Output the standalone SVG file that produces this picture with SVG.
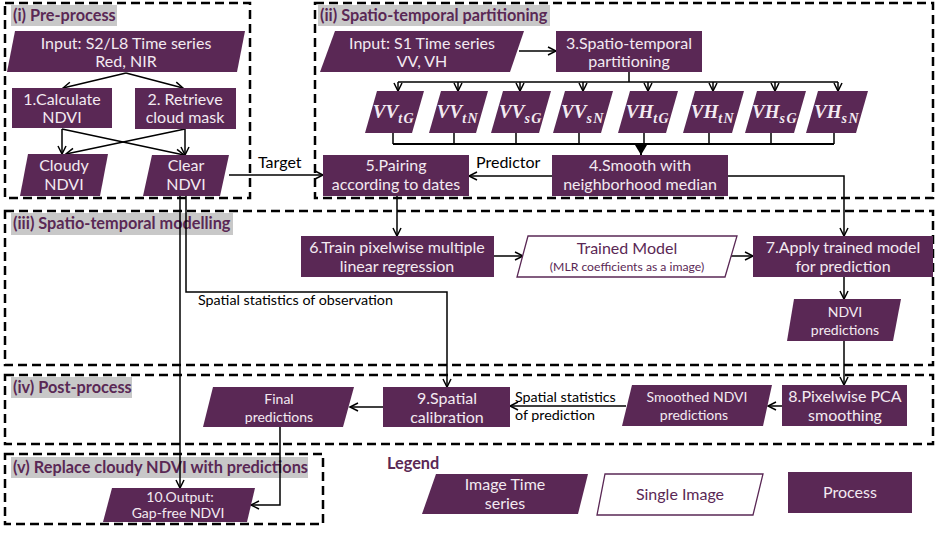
<svg xmlns="http://www.w3.org/2000/svg" width="938" height="533" viewBox="0 0 938 533">
<style>
.p{fill:#5a2855;}
.w{fill:#ffffff;stroke:#5a2855;stroke-width:1.3;}
.t{font-family:Lato,"Liberation Sans",sans-serif;font-size:16px;fill:#f3eaf1;text-anchor:middle;}
.ts{font-family:Lato,"Liberation Sans",sans-serif;font-size:14px;fill:#f3eaf1;text-anchor:middle;}
.tp{font-family:Lato,"Liberation Sans",sans-serif;font-size:16px;fill:#5a2855;text-anchor:middle;}
.hd{font-family:Lato,"Liberation Sans",sans-serif;font-size:16.3px;font-weight:bold;fill:#5a2855;}
.hb{fill:#c8c8c8;}
.reg{fill:none;stroke:#000;stroke-width:2.5;stroke-dasharray:9 5;}
.c{fill:none;stroke:#000;stroke-width:1.5;}
.ca{fill:none;stroke:#000;stroke-width:1.5;marker-end:url(#a);}
.lb{font-family:Lato,"Liberation Sans",sans-serif;font-size:14.3px;fill:#000;}
.lbl{font-family:Lato,"Liberation Sans",sans-serif;font-size:16px;fill:#000;}
.m{font-family:"Liberation Serif",serif;font-size:19px;font-weight:bold;font-style:italic;fill:#f3eaf1;text-anchor:middle;}
.sub{font-size:14px;letter-spacing:1.5px;}
</style>
<defs>
<marker id="a" markerUnits="userSpaceOnUse" markerWidth="12" markerHeight="12" refX="9" refY="5" orient="auto">
<path d="M1,1 L9,5 L1,9" fill="none" stroke="#000" stroke-width="1.5"/>
</marker>
<marker id="f" markerUnits="userSpaceOnUse" markerWidth="14" markerHeight="14" refX="10" refY="6" orient="auto">
<path d="M0,0 L10,6 L0,12 Z" fill="#000"/>
</marker>
</defs>

<g id="regions">
<rect class="reg" x="5" y="3" width="245" height="195"/>
<rect class="reg" x="315" y="3" width="618" height="195"/>
<rect class="reg" x="5" y="211" width="928" height="154"/>
<rect class="reg" x="5" y="375" width="928" height="69"/>
<rect class="reg" x="5" y="454" width="318" height="70"/>
</g>

<g id="titles">
<rect class="hb" x="11" y="5" width="106" height="21"/>
<text class="hd" x="13" y="21">(i) Pre-process</text>
<rect class="hb" x="318" y="5" width="232" height="21"/>
<text class="hd" x="320" y="21">(ii) Spatio-temporal partitioning</text>
<rect class="hb" x="11" y="213" width="222" height="22"/>
<text class="hd" x="13" y="229">(iii) Spatio-temporal modelling</text>
<rect class="hb" x="11" y="377" width="121" height="21"/>
<text class="hd" x="13" y="393">(iv) Post-process</text>
<rect class="hb" x="11" y="457" width="297" height="21"/>
<text class="hd" x="13" y="473">(v) Replace cloudy NDVI with predictions</text>
<text class="hd" x="387" y="469">Legend</text>
</g>

<g id="connectors">
<line class="ca" x1="126" y1="73" x2="63" y2="88"/>
<line class="ca" x1="126" y1="73" x2="183" y2="88"/>
<line class="ca" x1="62" y1="129" x2="62" y2="154"/>
<line class="ca" x1="62" y1="129" x2="184" y2="155"/>
<line class="ca" x1="185" y1="129" x2="185" y2="155"/>
<line class="ca" x1="185" y1="129" x2="66" y2="154"/>
<line class="ca" x1="229" y1="175" x2="323" y2="175"/>
<text class="lbl" x="258" y="168">Target</text>
<line class="ca" x1="519" y1="51" x2="556" y2="51"/>
<path class="c" d="M629,72 V82 M398,82 H838"/>
<line class="ca" x1="398" y1="82" x2="398" y2="91"/>
<line class="ca" x1="458" y1="82" x2="458" y2="91"/>
<line class="ca" x1="520" y1="82" x2="520" y2="91"/>
<line class="ca" x1="583" y1="82" x2="583" y2="91"/>
<line class="ca" x1="648" y1="82" x2="648" y2="91"/>
<line class="ca" x1="713" y1="82" x2="713" y2="91"/>
<line class="ca" x1="775" y1="82" x2="775" y2="91"/>
<line class="ca" x1="838" y1="82" x2="838" y2="91"/>
<path class="c" d="M393,133 V144 M454,133 V144 M516,133 V144 M579,133 V144 M644,133 V144 M709,133 V144 M771,133 V144 M834,133 V144" />
<path class="c" style="stroke-width:2" d="M393,144 H834"/>
<line x1="641" y1="144" x2="641" y2="155" stroke="#000" stroke-width="2" marker-end="url(#f)"/>
<line class="ca" x1="552" y1="176" x2="469" y2="176"/>
<text class="lbl" x="476" y="168">Predictor</text>
<path class="ca" d="M728,176 H844 V236"/>
<line class="ca" x1="397" y1="196" x2="397" y2="236"/>
<line class="ca" x1="494" y1="256" x2="523" y2="256"/>
<line class="ca" x1="731" y1="256" x2="753" y2="256"/>
<line class="ca" x1="844" y1="277" x2="844" y2="299"/>
<line class="ca" x1="844" y1="341" x2="844" y2="385"/>
<path class="ca" d="M186,196 V292 H447 V387"/>
<text class="lb" x="198" y="305">Spatial statistics of observation</text>
<line class="ca" x1="180" y1="196" x2="180" y2="488"/>
<line class="ca" x1="782" y1="406" x2="768" y2="406"/>
<line class="ca" x1="626" y1="406" x2="510" y2="406"/>
<text class="lb" x="515" y="402">Spatial statistics</text>
<text class="lb" x="515" y="420">of prediction</text>
<line class="ca" x1="383" y1="407" x2="350" y2="407"/>
<path class="ca" d="M280,427 V505 H251"/>
</g>

<g id="n-input-s2">
<polygon class="p" points="15,31 245,31 237,72 7,72"/>
<text class="t" x="126" y="49">Input: S2/L8 Time series</text>
<text class="t" x="126" y="67">Red, NIR</text>
</g>
<g id="n-1">
<rect class="p" x="12" y="88" width="100" height="40"/>
<text class="t" x="62" y="105">1.Calculate</text>
<text class="t" x="62" y="123">NDVI</text>
</g>
<g id="n-2">
<rect class="p" x="135" y="88" width="101" height="41"/>
<text class="t" x="185" y="105">2. Retrieve</text>
<text class="t" x="185" y="123">cloud mask</text>
</g>
<g id="n-cloudy">
<polygon class="p" points="28,154 108,154 100,196 20,196"/>
<text class="t" x="64" y="171">Cloudy</text>
<text class="t" x="64" y="190">NDVI</text>
</g>
<g id="n-clear">
<polygon class="p" points="152,155 229,155 220,196 143,196"/>
<text class="t" x="186" y="171">Clear</text>
<text class="t" x="186" y="190">NDVI</text>
</g>
<g id="n-input-s1">
<polygon class="p" points="335,31 524,31 510,72 320,72"/>
<text class="t" x="422" y="49">Input: S1 Time series</text>
<text class="t" x="422" y="67">VV, VH</text>
</g>
<g id="n-3">
<rect class="p" x="556" y="31" width="146" height="41"/>
<text class="t" x="629" y="49">3.Spatio-temporal</text>
<text class="t" x="629" y="67">partitioning</text>
</g>

<g id="n-vvtg"><polygon class="p" points="377,91 424,91 412,133 365,133"/><text class="m" x="394" y="118">VV<tspan class="sub" dy="5">tG</tspan></text></g>
<g id="n-vvtn"><polygon class="p" points="441,91 488,91 476,133 429,133"/><text class="m" x="458" y="118">VV<tspan class="sub" dy="5">tN</tspan></text></g>
<g id="n-vvsg"><polygon class="p" points="503,91 551,91 539,133 491,133"/><text class="m" x="521" y="118">VV<tspan class="sub" dy="5">sG</tspan></text></g>
<g id="n-vvsn"><polygon class="p" points="565,91 613,91 601,133 553,133"/><text class="m" x="583" y="118">VV<tspan class="sub" dy="5">sN</tspan></text></g>
<g id="n-vhtg"><polygon class="p" points="630,91 678,91 666,133 618,133"/><text class="m" x="648" y="118">VH<tspan class="sub" dy="5">tG</tspan></text></g>
<g id="n-vhtn"><polygon class="p" points="695,91 744,91 732,133 683,133"/><text class="m" x="713" y="118">VH<tspan class="sub" dy="5">tN</tspan></text></g>
<g id="n-vhsg"><polygon class="p" points="757,91 806,91 794,133 745,133"/><text class="m" x="775" y="118">VH<tspan class="sub" dy="5">sG</tspan></text></g>
<g id="n-vhsn"><polygon class="p" points="818,91 868,91 856,133 806,133"/><text class="m" x="837" y="118">VH<tspan class="sub" dy="5">sN</tspan></text></g>

<g id="n-4">
<rect class="p" x="552" y="155" width="176" height="41"/>
<text class="t" x="640" y="171">4.Smooth with</text>
<text class="t" x="640" y="190">neighborhood median</text>
</g>
<g id="n-5">
<rect class="p" x="323" y="155" width="146" height="41"/>
<text class="t" x="396" y="171">5.Pairing</text>
<text class="t" x="396" y="190">according to dates</text>
</g>
<g id="n-6">
<rect class="p" x="301" y="236" width="193" height="41"/>
<text class="t" x="397" y="253">6.Train pixelwise multiple</text>
<text class="t" x="397" y="272">linear regression</text>
</g>
<g id="n-trained">
<polygon class="w" points="528,236 737,236 725,277 517,277"/>
<text class="tp" x="627" y="254">Trained Model</text>
<text class="tp" style="font-size:12.2px" x="627" y="271">(MLR coefficients as a image)</text>
</g>
<g id="n-7">
<rect class="p" x="753" y="236" width="180" height="41"/>
<text class="t" x="843" y="253">7.Apply trained model</text>
<text class="t" x="843" y="272">for prediction</text>
</g>
<g id="n-ndvipred">
<polygon class="p" points="794,299 901,299 893,341 787,341"/>
<text class="ts" x="845" y="317">NDVI</text>
<text class="ts" x="845" y="335">predictions</text>
</g>
<g id="n-8">
<rect class="p" x="782" y="385" width="125" height="41"/>
<text class="t" x="845" y="402">8.Pixelwise PCA</text>
<text class="t" x="845" y="421">smoothing</text>
</g>
<g id="n-smoothed">
<polygon class="p" points="632,385 772,385 763,426 622,426"/>
<text class="ts" x="697" y="402">Smoothed  NDVI</text>
<text class="ts" x="694" y="420">predictions</text>
</g>
<g id="n-9">
<rect class="p" x="383" y="387" width="127" height="40"/>
<text class="t" x="447" y="404">9.Spatial</text>
<text class="t" x="447" y="423">calibration</text>
</g>
<g id="n-final">
<polygon class="p" points="213,387 354,387 343,427 203,427"/>
<text class="ts" x="279" y="404">Final</text>
<text class="ts" x="279" y="422">predictions</text>
</g>
<g id="n-10">
<polygon class="p" points="112,488 255,488 247,522 103,522"/>
<text class="ts" x="180" y="502">10.Output:</text>
<text class="ts" x="178" y="518">Gap-free NDVI</text>
</g>

<g id="legend">
<g id="l-series">
<polygon class="p" points="436,474 588,474 578,514 422,514"/>
<text class="t" x="505" y="490">Image Time</text>
<text class="t" x="505" y="509">series</text>
</g>
<g id="l-single">
<polygon class="w" points="605,474 763,474 753,515 597,515"/>
<text class="tp" x="680" y="500">Single Image</text>
</g>
<g id="l-process">
<rect class="p" x="788" y="472" width="124" height="41"/>
<text class="t" x="850" y="498">Process</text>
</g>
</g>
</svg>
